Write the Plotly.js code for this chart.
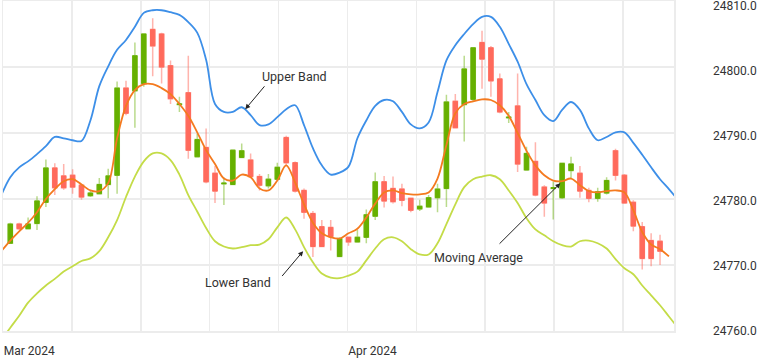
<!DOCTYPE html>
<html>
<head>
<meta charset="utf-8">
<script src="https://cdn.plot.ly/plotly-3.0.1.min.js"></script>
<style>html,body{margin:0;padding:0;background:#fff;}#chart{width:764px;height:358px;}</style>
</head>
<body>
<div id="chart"></div>
<script>
// Candle data (one candle per trading period)
const open  = [24773.3,24776.2,24775.5,24776.3,24779.5,24784.7,24783.5,24783.6,24782.1,24780.5,24780.8,24782.2,24783.6,24796.8,24796.4,24797.5,24805.7,24805.0,24800.2,24794.3,24796.1,24786.4,24787.8,24783.9,24782.3,24782.2,24786.3,24785.9,24783.4,24782.0,24783.0,24789.3,24785.5,24781.3,24777.8,24775.8,24775.7,24771.3,24774.2,24773.5,24774.2,24777.4,24782.6,24781.6,24781.5,24780.1,24778.5,24778.8,24780.2,24781.6,24794.8,24794.3,24795.1,24803.7,24802.9,24798.2,24792.3,24794.1,24784.4,24785.7,24781.8,24781.6,24780.2,24784.3,24783.9,24781.3,24780.1,24780.9,24787.3,24783.6,24779.5,24775.8,24773.7,24773.6];
const high  = [24776.4,24776.4,24777.2,24780.4,24786.0,24785.4,24785.3,24784.5,24782.3,24781.2,24783.2,24784.6,24797.8,24797.9,24803.7,24805.1,24807.4,24805.2,24801.0,24795.5,24801.7,24789.9,24790.7,24785.0,24783.3,24787.5,24788.4,24786.9,24783.8,24783.8,24785.5,24789.6,24785.7,24781.6,24778.2,24776.8,24776.8,24774.2,24774.3,24775.3,24778.4,24784.0,24783.5,24783.4,24782.3,24780.2,24779.9,24780.6,24782.3,24795.8,24795.9,24801.7,24803.0,24805.5,24803.2,24799.0,24793.2,24799.0,24787.9,24788.6,24782.1,24782.6,24785.5,24786.4,24785.0,24781.7,24781.7,24783.3,24787.6,24783.8,24779.8,24776.5,24774.8,24774.6];
const low   = [24773.2,24775.3,24775.4,24775.3,24778.8,24780.6,24781.4,24780.8,24779.9,24780.3,24780.7,24780.1,24780.8,24792.7,24790.8,24797.0,24798.6,24797.5,24794.4,24793.2,24786.1,24786.3,24782.4,24779.4,24779.1,24782.1,24786.2,24783.2,24781.3,24781.6,24782.9,24785.0,24781.0,24777.0,24771.2,24772.7,24772.2,24771.2,24772.9,24773.4,24773.3,24776.8,24778.7,24779.3,24778.9,24778.0,24778.2,24778.7,24778.0,24778.8,24790.7,24788.7,24794.8,24796.7,24795.5,24793.0,24791.5,24784.1,24784.3,24780.4,24777.3,24776.9,24780.0,24783.2,24780.2,24779.5,24779.6,24780.7,24782.8,24779.3,24775.1,24769.3,24769.8,24770.0];
const close = [24776.2,24775.5,24776.2,24779.7,24784.7,24781.7,24781.7,24781.8,24780.3,24780.9,24782.2,24783.5,24796.8,24793.0,24801.7,24805.0,24803.2,24800.0,24795.2,24794.4,24787.4,24789.0,24782.6,24781.2,24782.4,24787.4,24787.3,24783.4,24782.1,24783.0,24784.8,24785.5,24781.2,24778.0,24772.8,24772.8,24774.3,24774.0,24773.5,24774.2,24777.6,24782.6,24779.7,24779.6,24779.8,24778.3,24778.9,24780.2,24781.5,24794.7,24790.8,24799.7,24802.9,24801.2,24797.9,24793.2,24792.4,24785.3,24786.9,24780.6,24779.4,24781.7,24785.4,24785.3,24781.2,24780.1,24781.1,24782.8,24783.6,24779.4,24775.9,24771.0,24771.0,24772.1];

// Indicator series, starting one period before the first candle
const upperBand = [24780.6,24783.3,24784.8,24785.7,24786.8,24788.0,24789.4,24789.2,24788.9,24788.8,24791.9,24797.1,24800.1,24802.6,24804.1,24806.1,24808.2,24808.6,24808.6,24808.3,24807.9,24806.8,24805.2,24801.1,24794.4,24793.2,24793.2,24793.9,24792.7,24791.2,24791.3,24792.4,24793.6,24794.2,24791.2,24787.7,24785.1,24783.7,24784.0,24784.9,24789.2,24791.9,24794.1,24795.0,24794.8,24793.2,24791.3,24790.7,24791.6,24796.2,24801.0,24803.3,24805.0,24806.5,24807.6,24807.6,24806.1,24803.5,24800.8,24797.4,24795.0,24792.7,24791.8,24793.5,24794.7,24793.5,24790.7,24788.9,24789.4,24790.1,24790.1,24788.5,24786.7,24784.8,24783.0,24781.5,24779.9];
const movingAvg = [24772.1,24773.7,24775.1,24776.4,24778.0,24780.0,24781.5,24782.7,24783.0,24782.2,24781.3,24781.2,24782.4,24789.2,24794.1,24796.5,24797.4,24797.4,24796.8,24795.9,24794.4,24792.6,24790.1,24787.4,24785.3,24783.1,24782.8,24783.7,24783.3,24781.6,24781.3,24782.8,24785.1,24782.5,24779.2,24776.4,24774.8,24774.2,24774.0,24774.8,24775.5,24777.2,24779.3,24781.0,24781.3,24780.9,24780.7,24780.7,24781.0,24783.1,24788.2,24793.0,24794.4,24794.8,24795.1,24795.0,24794.2,24792.6,24790.0,24787.3,24785.1,24783.6,24782.8,24782.7,24783.1,24782.1,24781.2,24781.0,24781.2,24781.3,24781.0,24778.3,24775.0,24773.1,24772.4,24771.3];
const lowerBand = [24758.6,24760.5,24762.3,24764.3,24765.7,24766.9,24767.9,24769.0,24769.8,24770.6,24771.0,24772.1,24774.2,24776.8,24780.3,24783.4,24785.7,24786.9,24786.9,24785.9,24783.7,24780.6,24778.1,24775.6,24773.6,24772.8,24772.5,24772.7,24773.0,24773.1,24773.9,24775.7,24777.2,24775.4,24772.7,24770.4,24768.7,24768.1,24768.0,24768.4,24769.0,24770.7,24772.5,24773.9,24774.2,24773.6,24772.4,24771.6,24771.6,24773.3,24776.2,24779.2,24781.8,24783.0,24783.4,24783.6,24783.0,24781.3,24779.4,24777.1,24775.4,24774.5,24773.6,24773.0,24772.8,24773.6,24773.7,24773.3,24772.5,24770.9,24769.5,24768.6,24766.9,24765.4,24763.9,24762.2,24760.5];

// Axis tick labels (one per vertical grid line)
const tickLabels = ["Mar 2024","","","","","Apr 2024","","","",""];

const candleX = open.map((_, i) => i);
const xFor = arr => arr.map((_, i) => i - 1);
const bodyHigh = open.map((o, i) => Math.max(o, close[i]));
const bodyLow = open.map((o, i) => Math.min(o, close[i]));

const GREEN = '#66b000', RED = '#ff6a5c';
const tick0 = -0.82, dtick = 7.74;
const tickVals = tickLabels.map((_, k) => tick0 + k * dtick);

const traces = [
  { // wicks
    type: 'candlestick', x: candleX, open: open, high: high, low: low, close: close,
    increasing: { line: { color: 'rgba(102,176,0,0.45)', width: 1.5 }, fillcolor: 'rgba(0,0,0,0)' },
    decreasing: { line: { color: 'rgba(255,106,92,0.5)', width: 1.5 }, fillcolor: 'rgba(0,0,0,0)' },
    hoverinfo: 'skip', showlegend: false
  },
  { // bodies
    type: 'candlestick', x: candleX, open: open, high: bodyHigh, low: bodyLow, close: close,
    increasing: { line: { color: GREEN, width: 1 }, fillcolor: GREEN },
    decreasing: { line: { color: RED, width: 1 }, fillcolor: RED },
    showlegend: false
  },
  { type: 'scatter', mode: 'lines', x: xFor(upperBand), y: upperBand, line: { color: '#3d8fe8', width: 1.8, shape: 'spline', smoothing: 1 }, showlegend: false },
  { type: 'scatter', mode: 'lines', x: xFor(lowerBand), y: lowerBand, line: { color: '#c4dc48', width: 1.8, shape: 'spline', smoothing: 1 }, showlegend: false },
  { type: 'scatter', mode: 'lines', x: xFor(movingAvg), y: movingAvg, line: { color: '#f47a1f', width: 1.8, shape: 'spline', smoothing: 1 }, showlegend: false },
  // invisible carrier so the price-label axis is drawn
  { type: 'scatter', mode: 'markers', x: candleX, y: close, yaxis: 'y2', marker: { opacity: 0 }, hoverinfo: 'skip', showlegend: false }
];

const arrow = (hx, hy, tx, ty) => ({
  x: hx, y: hy, ax: tx, ay: ty, xref: 'x', yref: 'y', axref: 'x', ayref: 'y',
  text: '', showarrow: true, arrowhead: 2, arrowsize: 1, arrowwidth: 1, arrowcolor: '#222'
});
const label = (t, x, y) => ({
  x: x, y: y, xref: 'x', yref: 'y', text: t, showarrow: false,
  font: { family: 'Roboto, sans-serif', size: 12.5, color: '#333' }
});

const layout = {
  width: 764, height: 358,
  margin: { l: 3, r: 90, t: 1, b: 27 },
  paper_bgcolor: '#fff', plot_bgcolor: '#fff',
  font: { family: 'Roboto, sans-serif', size: 12, color: '#333' },
  showlegend: false,
  boxgap: 0.3,
  xaxis: {
    type: 'linear', range: [-0.82, 74.57],
    tickmode: 'array', tickvals: tickVals, ticktext: tickLabels,
    ticklabelposition: 'outside right', ticklabeloverflow: 'allow', ticks: '', ticklabelstandoff: 8,
    showgrid: true, gridcolor: '#ececec', gridwidth: 1.5,
    showline: true, mirror: true, linecolor: '#ececec', linewidth: 1.5,
    zeroline: false, rangeslider: { visible: false }, fixedrange: true
  },
  yaxis: {
    side: 'right', range: [24760, 24810], tickmode: 'linear', tick0: 24760, dtick: 10,
    showticklabels: false, ticks: '',
    showgrid: true, gridcolor: '#ececec', gridwidth: 1.5,
    showline: true, mirror: true, linecolor: '#ececec', linewidth: 1.5,
    zeroline: false, fixedrange: true
  },
  // label axis: tick labels placed slightly inset from the grid as in the reference
  yaxis2: {
    overlaying: 'y', side: 'right', anchor: 'x', range: [24760, 24810.77],
    tickmode: 'linear', tick0: 24760, dtick: 10, tickformat: '.1f',
    ticks: '', ticklabelstandoff: 38, ticklabeloverflow: 'allow',
    showgrid: false, showline: false, zeroline: false, fixedrange: true
  },
  annotations: [
    arrow(26.4, 24793.6, 28.7, 24797.3),
    label('Upper Band', 31.93, 24798.6),
    arrow(32.9, 24772.1, 30.4, 24768.1),
    label('Lower Band', 25.58, 24767.4),
    arrow(61.8, 24782.4, 54.8, 24773.0),
    label('Moving Average', 52.61, 24771.2)
  ]
};

Plotly.newPlot('chart', traces, layout, { staticPlot: true, displayModeBar: false });
</script>
</body>
</html>
